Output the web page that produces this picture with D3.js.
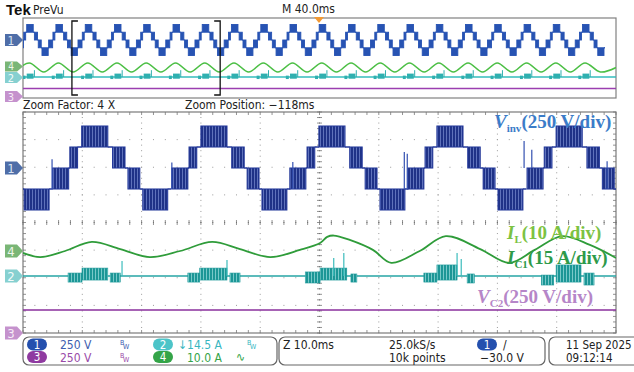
<!DOCTYPE html>
<html><head><meta charset="utf-8">
<script src="https://cdn.jsdelivr.net/npm/d3@7"></script>
<style>
body{margin:0;background:#fff;}
text{font-family:"DejaVu Sans Condensed","Liberation Sans Narrow","Liberation Sans",sans-serif;}
.lab{font-family:"Liberation Serif","DejaVu Serif",serif;font-weight:bold;}
</style></head>
<body><svg id="scope" width="634" height="372"></svg>
<script>
// ---- data ----
var E = 190; // one inverter level, V
// one cycle of the stepped inverter voltage, ms relative to the positive peak: [from, to, lowLevel, highLevel]
var stepPattern = [
  [-7.1, -4.4, -1, 0], [-4.4, -4.2, 0, 0], [-4.2, -2.9, 0, 1], [-2.9, -2.2, 1, 1],
  [-2.2, 2.2, 1, 2], [2.2, 3.0, 1, 1], [3.0, 5.1, 0, 1], [5.1, 5.6, 0, 0],
  [5.6, 7.6, -1, 0], [7.6, 8.1, -1, -1], [8.1, 12.3, -2, -1], [12.3, 12.9, -1, -1]
];
var mainPeaks = [-7.9, 12.1, 32.2, 52.1, 72.0, 92.1];
var ovPeaks = [-28.3, -8.6, 11.2, 30.9, 50.6, 70.4, 90.1, 109.8, 129.6, 149.3, 169.0,
  188.8, 208.5, 228.2, 248.0, 267.7, 287.4, 307.2, 326.9, 346.6];
// spikes on Vinv: [t ms, from V, to V]
var vinvSpikes = [[4.9, -190, 80], [25.1, -190, 50], [45.5, -190, 55], [64.3, -190, 145],
  [64.8, -190, 130], [84.5, 0, 245], [85.8, 0, 165], [98.5, -190, 60]];
// inductor current I_L: [t ms, A]
var ilMain = [[0, -0.7], [2.9, -2.2], [7.1, 0], [11.6, 3.3], [16.4, 0.7], [21.4, -2.2],
  [26.5, 0], [31.9, 3.3], [36.6, 0.7], [41.7, -2.2], [46.7, 0.4], [50.1, 2.9], [51.3, 5.1],
  [52.4, 5.6], [55.1, 4.0], [59.0, 0.4], [62.1, -4.3], [66.9, 0], [71.3, 5.4], [77.1, 0.7],
  [82.0, -4.3], [86.3, 0.4], [90.9, 5.4], [95.6, 2.2], [100, -2.5]];
// capacitor current I_C1 switching bursts: [t0, t1, low A, high A]
var icBands = [[7.6, 9.95, -3.3, 1.6], [9.95, 14.3, -2.2, 4.3], [14.7, 16.4, -3.3, 1.6],
  [27.8, 29.8, -3.3, 1.6], [29.8, 34.4, -2.2, 4.3], [34.9, 36.6, -3.3, 1.6],
  [47.6, 50.1, -3.8, 2.2], [50.1, 54.6, -2.2, 4.3], [55.3, 56.3, -3.3, 1.1],
  [67.6, 69.8, -3.3, 1.6], [69.8, 73.2, -2.2, 6.0], [74.9, 76.1, -3.8, 1.1],
  [87.4, 89.5, -4.9, 0.5], [89.9, 94.1, -3.3, 6.0], [94.6, 96.3, -4.9, 1.6]];
var icSpikes = [[16.7, 8.2], [34.4, 8.7], [52.4, 9.8], [54.1, 12.5], [73.2, 12.5], [73.9, 9.2]];
var vc2Level = 208; // V
var ilOvAmp = 4.4; // A, overview swing

// ---- layout ----
var svg = d3.select("#scope");
var gx0 = 23, gx1 = 616, gy0 = 112, gy1 = 333;
var divY = (gy1 - gy0) / 8, ovDiv = divY * 0.37;
var xMain = d3.scaleLinear().domain([0, 100]).range([gx0, gx1]);
var xOv = d3.scaleLinear().domain([-33, 367]).range([gx0, gx1]);
var chScale = function(zero, perDiv, px){
  return d3.scaleLinear().domain([0, perDiv]).range([zero, zero - px]);
};
var y1 = chScale(168, 250, divY), y4 = chScale(251, 10, divY),
    y2 = chScale(276, 15, divY), y3 = chScale(333, 250, divY);
var o1 = chScale(40, 250, ovDiv), o4 = chScale(67.5, 10, ovDiv),
    o2 = chScale(77, 15, ovDiv), o3 = chScale(97, 250, ovDiv);

var defs = svg.append("defs");
defs.append("clipPath").attr("id", "clipMain").append("rect")
  .attr("x", gx0).attr("y", gy0).attr("width", gx1 - gx0).attr("height", gy1 - gy0);
defs.append("clipPath").attr("id", "clipOv").append("rect")
  .attr("x", gx0).attr("y", 18).attr("width", gx1 - gx0).attr("height", 80);
var pat = function(id, base, light){
  var p = defs.append("pattern").attr("id", id).attr("patternUnits", "userSpaceOnUse")
    .attr("width", 3).attr("height", 4);
  p.append("rect").attr("width", 3).attr("height", 4).attr("fill", base);
  p.append("rect").attr("x", 2).attr("width", 0.8).attr("height", 4).attr("fill", light);
};
pat("pwmBlue", "#1f3287", "#6f82c8");
pat("pwmTeal", "#1c9696", "#8fd6d6");

// ---- overview box ----
svg.append("rect").attr("x", gx0).attr("y", 18).attr("width", gx1 - gx0).attr("height", 80)
  .attr("fill", "#fff").attr("stroke", "#808080").attr("stroke-width", 1.2);

var drawSteps = function(g, x, y, peaks, fill, color, lw){
  peaks.forEach(function(p){
    stepPattern.forEach(function(s){
      var t0 = p + s[0], t1 = p + s[1];
      if(s[2] == s[3]){
        g.append("line").attr("x1", x(t0)).attr("x2", x(t1))
          .attr("y1", y(s[2] * E)).attr("y2", y(s[2] * E))
          .attr("stroke", color).attr("stroke-width", lw);
      } else {
        g.append("rect").attr("x", x(t0)).attr("width", x(t1) - x(t0))
          .attr("y", y(s[3] * E)).attr("height", y(s[2] * E) - y(s[3] * E))
          .attr("fill", fill).attr("stroke", color).attr("stroke-width", lw * 0.7);
      }
    });
  });
};

var ov = svg.append("g").attr("clip-path", "url(#clipOv)");
// purple V_C2
ov.append("line").attr("x1", xOv(-33)).attr("x2", xOv(367))
  .attr("y1", o3(vc2Level)).attr("y2", o3(vc2Level))
  .attr("stroke", "#9b3fb0").attr("stroke-width", 1.5);
// teal I_C1
ov.append("line").attr("x1", xOv(-33)).attr("x2", xOv(367))
  .attr("y1", o2(0)).attr("y2", o2(0)).attr("stroke", "#35bcbc").attr("stroke-width", 1.5);
ovPeaks.forEach(function(p){
  ov.append("rect").attr("x", xOv(p - 2.2)).attr("width", xOv(p + 2.4) - xOv(p - 2.2))
    .attr("y", o2(5)).attr("height", o2(-2.5) - o2(5)).attr("fill", "#2fb0b0");
  ov.append("rect").attr("x", xOv(p - 5)).attr("width", xOv(p - 3) - xOv(p - 5))
    .attr("y", o2(2)).attr("height", o2(-3) - o2(2)).attr("fill", "#2fb0b0");
  ov.append("line").attr("x1", xOv(p + 3)).attr("x2", xOv(p + 3))
    .attr("y1", o2(0)).attr("y2", o2(10)).attr("stroke", "#2fb0b0");
});
// green I_L
var ilOv = [];
ovPeaks.forEach(function(p){ ilOv.push([p - 10.4, -ilOvAmp]); ilOv.push([p - 0.5, ilOvAmp]); });
ilOv.push([356.5, -ilOvAmp]); ilOv.push([367, 0]);
ov.append("path").datum(ilOv)
  .attr("d", d3.line().x(function(d){ return xOv(d[0]); }).y(function(d){ return o4(d[1]); })
    .curve(d3.curveCatmullRom))
  .attr("fill", "none").attr("stroke", "#4cbf45").attr("stroke-width", 1.6);
// blue V_inv
drawSteps(ov, xOv, o1, ovPeaks, "#2753b3", "#2753b3", 1.3);

// zoom bracket
var bx0 = xOv(0), bx1 = xOv(100);
svg.append("path").attr("d", "M" + (bx0 + 6) + ",21H" + bx0 + "V95H" + (bx0 + 6))
  .attr("fill", "none").attr("stroke", "#111").attr("stroke-width", 1.3);
svg.append("path").attr("d", "M" + (bx1 - 6) + ",21H" + bx1 + "V95H" + (bx1 - 6))
  .attr("fill", "none").attr("stroke", "#111").attr("stroke-width", 1.3);
// trigger marker
svg.append("path").attr("d", "M314,17L324,17L319,23Z").attr("fill", "#f29a35");

// ---- main graticule ----
var grid = svg.append("g");
grid.append("rect").attr("x", gx0).attr("y", gy0).attr("width", gx1 - gx0).attr("height", gy1 - gy0)
  .attr("fill", "#fff").attr("stroke", "#7a7a7a").attr("stroke-width", 1.2);
var gxTicks = d3.range(0, 101, 10), gyTicks = d3.range(0, 9);
var xMinor = d3.range(0, 100.01, 2), yMinor = d3.range(0, 8.01, 0.2);
var yDiv = function(k){ return gy0 + k * divY; };
gxTicks.forEach(function(t){
  if(t == 0 || t == 100) return;
  yMinor.forEach(function(k){
    grid.append("rect").attr("x", xMain(t) - 0.5).attr("y", yDiv(k) - 0.5)
      .attr("width", 1).attr("height", 1).attr("fill", t == 50 ? "#666" : "#9a9a9a");
  });
});
gyTicks.forEach(function(k){
  if(k == 0 || k == 8) return;
  xMinor.forEach(function(t){
    grid.append("rect").attr("x", xMain(t) - 0.5).attr("y", yDiv(k) - 0.5)
      .attr("width", 1).attr("height", 1).attr("fill", k == 4 ? "#666" : "#9a9a9a");
  });
});
// ticks on centre axes and border
yMinor.forEach(function(k){
  [[xMain(50) - 2.5, xMain(50) + 2.5], [gx0, gx0 + 3], [gx1 - 3, gx1]].forEach(function(r){
    grid.append("line").attr("x1", r[0]).attr("x2", r[1]).attr("y1", yDiv(k)).attr("y2", yDiv(k))
      .attr("stroke", "#777").attr("stroke-width", 0.8);
  });
});
xMinor.forEach(function(t){
  [[yDiv(4) - 2.5, yDiv(4) + 2.5], [gy0, gy0 + 3], [gy1 - 3, gy1]].forEach(function(r){
    grid.append("line").attr("y1", r[0]).attr("y2", r[1]).attr("x1", xMain(t)).attr("x2", xMain(t))
      .attr("stroke", "#777").attr("stroke-width", 0.8);
  });
});

var mg = svg.append("g").attr("clip-path", "url(#clipMain)");
// V_C2
mg.append("line").attr("x1", xMain(0)).attr("x2", xMain(100))
  .attr("y1", y3(vc2Level)).attr("y2", y3(vc2Level))
  .attr("stroke", "#8a2f9c").attr("stroke-width", 1.6);
// I_C1
mg.append("line").attr("x1", xMain(0)).attr("x2", xMain(100))
  .attr("y1", y2(0)).attr("y2", y2(0)).attr("stroke", "#26a4a4").attr("stroke-width", 1.6);
icBands.forEach(function(b){
  mg.append("rect").attr("x", xMain(b[0])).attr("width", xMain(b[1]) - xMain(b[0]))
    .attr("y", y2(b[3])).attr("height", y2(b[2]) - y2(b[3]))
    .attr("fill", "url(#pwmTeal)").attr("stroke", "#1f9a9a").attr("stroke-width", 0.6);
});
icSpikes.forEach(function(s){
  mg.append("line").attr("x1", xMain(s[0])).attr("x2", xMain(s[0]))
    .attr("y1", y2(0)).attr("y2", y2(s[1])).attr("stroke", "#3cbcbc").attr("stroke-width", 1.2);
});
// I_L
mg.append("path").datum(ilMain)
  .attr("d", d3.line().x(function(d){ return xMain(d[0]); }).y(function(d){ return y4(d[1]); })
    .curve(d3.curveCatmullRom))
  .attr("fill", "none").attr("stroke", "#2f9c3a").attr("stroke-width", 1.8);
// V_inv
drawSteps(mg, xMain, y1, mainPeaks, "url(#pwmBlue)", "#24399a", 1.5);
vinvSpikes.forEach(function(s){
  mg.append("line").attr("x1", xMain(s[0])).attr("x2", xMain(s[0]))
    .attr("y1", y1(s[1])).attr("y2", y1(s[2])).attr("stroke", "#3350b0").attr("stroke-width", 1.2);
});

// ---- channel markers ----
var marker = function(cy, num, fill, txt, h){
  var g = svg.append("g");
  g.append("path").attr("d", "M5," + (cy - h) + "H17L23," + cy + "L17," + (cy + h) + "H5Z")
    .attr("fill", fill);
  g.append("text").attr("x", 11).attr("y", cy + h * 0.75).attr("text-anchor", "middle")
    .attr("font-size", h * 2).attr("fill", txt).text(num);
};
marker(40, "1", "#4f6ea8", "#d8e2f4", 6);
marker(66.5, "4", "#7ab676", "#eef6ec", 5);
marker(77.5, "2", "#86d0d0", "#f3fbfb", 5.5);
marker(96.5, "3", "#c592cd", "#f6ecf7", 5.5);
marker(y1(0), "1", "#4f6ea8", "#d8e2f4", 6.5);
marker(y4(0), "4", "#7ab676", "#eef6ec", 6.5);
marker(y2(0), "2", "#86d0d0", "#f3fbfb", 6.5);
marker(y3(0), "3", "#c592cd", "#f6ecf7", 6.5);

// ---- header text ----
svg.append("text").attr("x", 6).attr("y", 15).attr("font-size", 15).attr("font-weight", "bold")
  .style("font-family", "'Liberation Sans',sans-serif").attr("fill", "#111").text("Tek");
svg.append("text").attr("x", 33).attr("y", 14).attr("font-size", 12).attr("fill", "#222").text("PreVu");
svg.append("text").attr("x", 282).attr("y", 13).attr("font-size", 12).attr("fill", "#222").text("M 40.0ms");
svg.append("text").attr("x", 23).attr("y", 109).attr("font-size", 12).attr("fill", "#222").text("Zoom Factor: 4 X");
svg.append("text").attr("x", 185).attr("y", 109).attr("font-size", 12).attr("fill", "#222").text("Zoom Position: \u2212118ms");

// ---- trace labels ----
var label = function(x, y, main, sub, rest, color){
  var t = svg.append("text").attr("class", "lab").attr("x", x).attr("y", y)
    .attr("font-size", 19).attr("fill", color);
  t.append("tspan").attr("font-style", "italic").text(main);
  t.append("tspan").attr("font-size", 11).attr("dy", 4).text(sub);
  t.append("tspan").attr("dy", -4).text(rest);
};
label(494, 128, "V", "inv", "(250 V/div)", "#3b7cc8");
label(507, 239, "I", "L", "(10 A/div)", "#7cc243");
label(507, 264, "I", "C1", "(15 A/div)", "#2e9a49");
label(477, 303, "V", "C2", "(250 V/div)", "#b686c8");

// ---- status panel ----
var panel = svg.append("g");
var box = function(x0, x1){
  panel.append("rect").attr("x", x0).attr("y", 337).attr("width", x1 - x0).attr("height", 28)
    .attr("rx", 6).attr("fill", "#fff").attr("stroke", "#666").attr("stroke-width", 1.2);
};
box(23, 277); box(279, 545); box(549, 645);
var pill = function(x, y, num, fill){
  panel.append("rect").attr("x", x).attr("y", y - 10).attr("width", 20).attr("height", 12)
    .attr("rx", 6).attr("fill", fill);
  panel.append("text").attr("x", x + 10).attr("y", y).attr("text-anchor", "middle")
    .attr("font-size", 11.5).attr("fill", "#fff").text(num);
};
var ptext = function(x, y, s, color, size){
  panel.append("text").attr("x", x).attr("y", y).attr("font-size", size || 12).attr("fill", color).text(s);
};
var bw = function(x, y, color){
  ptext(x, y - 3, "B", color, 7); ptext(x + 3, y + 1, "W", color, 7);
};
pill(27, 348.5, "1", "#2450ae"); ptext(60, 349, "250 V", "#3d5db0"); bw(120, 348, "#3d5db0");
pill(27, 361, "3", "#8f3aa0"); ptext(60, 362, "250 V", "#9a4aa8"); bw(120, 361, "#9a4aa8");
pill(153, 348.5, "2", "#4cc4c8"); ptext(178, 349, "\u219314.5 A", "#38b6bf"); bw(247, 348, "#38b6bf");
pill(153, 361, "4", "#34a448"); ptext(187, 362, "10.0 A", "#34a448"); ptext(236, 361, "\u223f", "#34a448", 12);
ptext(283, 349, "Z 10.0ms", "#222");
ptext(389, 349, "25.0kS/s", "#222");
ptext(389, 362, "10k points", "#222");
pill(477, 348.5, "1", "#2450ae"); ptext(503, 349, "/", "#222");
ptext(480, 362, "\u221230.0 V", "#222");
ptext(566, 349, "11 Sep 2025", "#222", 11.5);
ptext(566, 362, "09:12:14", "#222", 11.5);
</script></body></html>
